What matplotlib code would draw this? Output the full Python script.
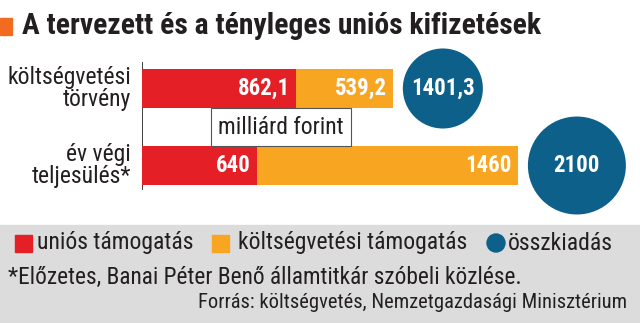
import matplotlib.pyplot as plt
import numpy as np

# Adatok (milliárd forint)
categories = ['költségvetési\ntörvény', 'év végi\nteljesülés*']
unios = [862.1, 640]
kvetesi = [539.2, 1460]
ossz = [1401.3, 2100]
unios_lbl = ['862,1', '640']
kvetesi_lbl = ['539,2', '1460']
ossz_lbl = ['1401,3', '2100']

RED = '#e41f26'
ORANGE = '#f8a521'
BLUE = '#0c6089'
GRAY = '#dcdcdd'
DARK = '#231f20'
plt.rcParams['font.family'] = ['Roboto Condensed', 'DejaVu Sans']

W, H = 640, 323
fig = plt.figure(figsize=(W / 100, H / 100), dpi=100)

# gray band at the bottom
fig.patches.append(plt.Rectangle((0, 0), 1, (H - 225) / H, transform=fig.transFigure,
                                 color=GRAY, zorder=0))

# title
fig.patches.append(plt.Rectangle((0, 1 - 35 / H), 12 / W, 17 / H, transform=fig.transFigure,
                                 color='#f26b21'))
fig.text(22 / W, 1 - 26 / H, 'A tervezett és a tényleges uniós kifizetések',
         fontsize=21.3, fontweight='bold', color=DARK, va='center', ha='left')

# main axes
x0, x1 = 142, 640
ytop, ybot = 62, 190
ax = fig.add_axes([x0 / W, 1 - ybot / H, (x1 - x0) / W, (ybot - ytop) / H])
px_per_unit = 0.179
ax.set_xlim(0, (x1 - x0) / px_per_unit)
ax.set_ylim(1.318, -0.344)
ax.axis('off')
ax.axvline(0, color=DARK, lw=1.2)

y = np.arange(len(categories))
bh = 0.506
ax.barh(y, unios, height=bh, color=RED, zorder=2)
ax.barh(y, kvetesi, left=unios, height=bh, color=ORANGE, zorder=2)

pad = 6 / px_per_unit
for i in range(len(categories)):
    ax.text(unios[i] - pad, y[i], unios_lbl[i], color='white', fontsize=16.5, fontweight='bold',
            ha='right', va='center', zorder=3)
    ax.text(unios[i] + kvetesi[i] - pad, y[i], kvetesi_lbl[i], color='white', fontsize=16.5,
            fontweight='bold', ha='right', va='center', zorder=3)

# circles, area ~ total
k = 2.37
sizes = [k * v for v in ossz]
for i in range(len(categories)):
    r_px = np.sqrt(sizes[i]) / 2 / 0.72
    cx = ossz[i] + (r_px + 10) / px_per_unit
    ax.scatter(cx, y[i], s=sizes[i], color=BLUE, edgecolors='none', zorder=3, clip_on=False)
    ax.text(cx, y[i], ossz_lbl[i], color='white', fontsize=16.5, fontweight='bold',
            ha='center', va='center', zorder=4)

# category labels
for i, c in enumerate(categories):
    ax.text(-11 / px_per_unit, y[i], c, ha='right', va='center', fontsize=17,
            color=DARK, linespacing=0.95)

# unit box
ax.text((281 - x0) / px_per_unit, 0.5, 'milliárd forint', ha='center', va='center', fontsize=17,
        color=DARK, zorder=5,
        bbox=dict(boxstyle='square,pad=0.3', fc='white', ec='#555555', lw=0.8))

# legend
fig.patches.append(plt.Rectangle((15 / W, 1 - 252 / H), 17 / W, 17 / H, transform=fig.transFigure,
                                 color=RED))
fig.text(37 / W, 1 - 243 / H, 'uniós támogatás', fontsize=17, color=DARK, va='center')
fig.patches.append(plt.Rectangle((212 / W, 1 - 252 / H), 17 / W, 17 / H, transform=fig.transFigure,
                                 color=ORANGE))
fig.text(238 / W, 1 - 243 / H, 'költségvetési támogatás', fontsize=17, color=DARK, va='center')
fig.patches.append(plt.Circle((496, H - 243), 9, transform=None, color=BLUE))
fig.text(508 / W, 1 - 243 / H, 'összkiadás', fontsize=17, color=DARK, va='center')

fig.text(8 / W, 1 - 277 / H, '*Előzetes, Banai Péter Benő államtitkár szóbeli közlése.',
         fontsize=16.8, color=DARK, va='center')
fig.text(627 / W, 1 - 302 / H, 'Forrás: költségvetés, Nemzetgazdasági Minisztérium',
         fontsize=14.8, color=DARK, va='center', ha='right')

fig.savefig('out.png', dpi=100)
